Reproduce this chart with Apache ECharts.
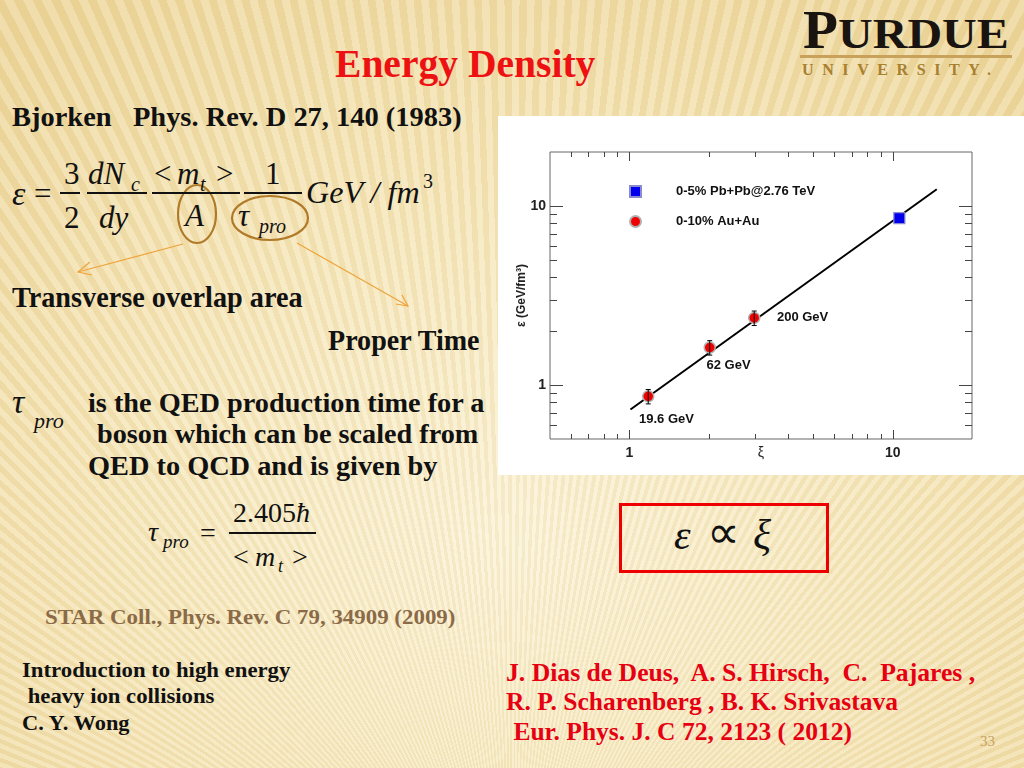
<!DOCTYPE html>
<html>
<head>
<meta charset="utf-8">
<script src="https://cdn.jsdelivr.net/npm/echarts@6/dist/echarts.min.js"></script>
<style>
  html,body{margin:0;padding:0;width:1024px;height:768px;overflow:hidden;}
  body{position:relative;
    background:
      repeating-conic-gradient(from 0deg at 50% 125%, rgba(255,255,255,0.16) 0deg 0.45deg, rgba(190,150,60,0.09) 0.45deg 0.9deg),
      radial-gradient(ellipse 75% 85% at 50% 70%, #fbf3d8 0%, #f6e7bb 50%, #eed79c 100%);
  }
  .t{position:absolute;white-space:pre;line-height:1;font-family:"Liberation Serif","Times New Roman",serif;color:#111;transform-origin:0 50%;}
  .bar{position:absolute;height:1.6px;background:#111;}
  #chart{position:absolute;left:498px;top:116px;width:526px;height:359px;background:#fff;}
  #box{position:absolute;left:619px;top:503px;width:204px;height:64px;border:3px solid #ee0000;}
</style>
</head>
<body>
<svg width="1024" height="768" style="position:absolute;left:0;top:0;pointer-events:none">
  <ellipse cx="197" cy="214" rx="19" ry="29" fill="none" stroke="#b07a28" stroke-width="2.2"/>
  <ellipse cx="270" cy="218" rx="38" ry="22" fill="none" stroke="#b07a28" stroke-width="2.2"/>
  <g stroke="#eea43a" stroke-width="1.2" fill="none">
    <line x1="183" y1="244" x2="78" y2="272"/>
    <polyline points="90,262 78,272 92,275"/>
    <line x1="297" y1="243" x2="408" y2="306"/>
    <polyline points="396,304 408,306 402,295"/>
  </g>
</svg>
<div id="box"></div>
<div id="chart"></div>
<script>
// ---------------- chart data ----------------
const auLabel = '0-10% Au+Au';
const pbLabel = '0-5% Pb+Pb@2.76 TeV';
const auEnergies = ['19.6 GeV', '62 GeV', '200 GeV'];
const auXi  = [1.18, 2.02, 2.98];
const auEps = [0.865, 1.62, 2.37];
const auErr = [0.08, 0.15, 0.22];
const pbXi  = [10.6];
const pbEps = [8.55];
const fitXi  = [1.01, 14.7];
const fitEps = [0.73, 12.4];
const xRange = [0.5, 20];
const yRange = [0.5, 20];
const xMajorTicks = [1, 10];
const xMinorTicks = [0.6, 0.7, 0.8, 0.9, 2, 3, 4, 5, 6, 7, 8, 9];
const yMajorTicks = [1, 10];
const yMinorTicks = [0.6, 0.7, 0.8, 0.9, 2, 3, 4, 5, 6, 7, 8, 9];

// ---------------- slide text ----------------
function T(txt, x, base, size, o) {
  o = o || {};
  const d = document.createElement('div');
  d.className = 't';
  d.textContent = txt;
  d.style.fontSize = size + 'px';
  d.style.left = x + 'px';
  d.style.top = (base - 0.8375 * size) + 'px';
  if (o.b) d.style.fontWeight = 'bold';
  if (o.i) d.style.fontStyle = 'italic';
  if (o.c) d.style.color = o.c;
  if (o.ls) d.style.letterSpacing = o.ls + 'px';
  document.body.appendChild(d);
  if (o.w) d.style.transform = 'scaleX(' + (o.w / d.offsetWidth) + ')';
  return d;
}
function B(x1, x2, y) {
  const d = document.createElement('div');
  d.className = 'bar';
  d.style.left = x1 + 'px'; d.style.width = (x2 - x1) + 'px'; d.style.top = (y - 0.8) + 'px';
  document.body.appendChild(d);
}
const RED = '#ee1111';
T('Energy Density', 335, 77, 40, {b:1, c:RED, w:260});
// Purdue logo
T('P', 803, 48, 54, {b:1, c:'#1a1410', w:35});
T('URDUE', 838, 48, 43, {b:1, c:'#1a1410', w:171});
(function(){const d=document.createElement('div');d.style.cssText='position:absolute;left:800px;top:55px;width:212px;height:3px;background:#c8a25a';document.body.appendChild(d);})();
T('UNIVERSITY.', 802, 75, 16, {b:1, c:'#a8802f', ls:8.6});

T('Bjorken   Phys. Rev. D 27, 140 (1983)', 12, 127, 27, {b:1, w:450});

// Bjorken formula
T('ε', 12, 205, 34, {i:1});
T('=', 34, 204, 31);
T('3', 64, 184, 31); B(60, 80, 193); T('2', 64, 228, 31);
T('dN', 88, 184, 31, {i:1}); T('c', 131, 191, 20, {i:1}); B(87, 147, 193); T('dy', 99, 228, 31, {i:1});
T('<', 154, 184, 31); T('m', 177, 184, 31, {i:1}); T('t', 200, 191, 20, {i:1}); T('>', 216, 184, 31);
B(152, 240, 193); T('A', 185, 226, 31, {i:1});
T('1', 265, 184, 31); B(244, 302, 193);
T('τ', 238, 226, 31, {i:1}); T('pro', 259, 233, 20, {i:1});
T('GeV / fm', 306, 203, 31, {i:1, w:114}); T('3', 423, 188, 20);

T('Transverse overlap area', 12, 307, 29, {b:1, w:291});
T('Proper Time', 328, 350, 29, {b:1, w:152});

T('τ', 12, 413, 34, {i:1}); T('pro', 34, 428, 22, {i:1});
T('is the QED production time for a', 88, 412, 28, {b:1, w:397});
T('boson which can be scaled from', 97, 443, 28, {b:1, w:381});
T('QED to QCD and is given by', 88, 475, 28, {b:1, w:349});

// tau_pro formula
T('τ', 148, 541, 28, {i:1}); T('pro', 163, 548, 19, {i:1});
T('=', 200, 542, 28);
T('2.405', 233, 522, 28); T('ħ', 296, 522, 28, {i:1});
B(229, 316, 533);
T('<', 233, 566, 28); T('m', 255, 566, 28, {i:1}); T('t', 278, 572, 18, {i:1}); T('>', 292, 566, 28);

// proportional box
T('ε', 674, 549, 42, {i:1}); T('∝', 707, 549, 46); T('ξ', 753, 549, 42, {i:1});

T('STAR Coll., Phys. Rev. C 79, 34909 (2009)', 45, 624, 22, {b:1, c:'#8b6b47', w:410});

T('Introduction to high energy', 22, 677, 22, {b:1, w:268});
T(' heavy ion collisions', 22, 703, 22, {b:1, w:192});
T('C. Y. Wong', 22, 730, 22, {b:1, w:108});

const AUTH = '#e60012';
T('J. Dias de Deus,  A. S. Hirsch,  C.  Pajares ,', 506, 681, 25, {b:1, c:AUTH, w:469});
T('R. P. Scharenberg , B. K. Srivastava', 506, 710, 25, {b:1, c:AUTH, w:392});
T(' Eur. Phys. J. C 72, 2123 ( 2012)', 507, 740, 25, {b:1, c:AUTH, w:345});
T('33', 980, 747, 15, {c:'#c8a060'});

// ---------------- chart ----------------
const chart = echarts.init(document.getElementById('chart'), null, {renderer:'canvas'});
const SANS = '"Liberation Sans", Arial, sans-serif';

const auData = auXi.map((x, i) => [x, auEps[i]]);
const pbData = pbXi.map((x, i) => [x, pbEps[i]]);
const fitData = fitXi.map((x, i) => [x, fitEps[i]]);
const errData = auXi.map((x, i) => [x, auEps[i], auEps[i] - auErr[i], auEps[i] + auErr[i]]);
const tickData = [].concat(
  xMinorTicks.map(v => [v, yRange[0], 0]),
  xMajorTicks.map(v => [v, yRange[0], 1]),
  yMinorTicks.map(v => [xRange[0], v, 2]),
  yMajorTicks.map(v => [xRange[0], v, 3])
);
// label placement (style only)
const auLabelPos = [[-3, 29], [3, 24], [29, 6]];

const labelFmt = v => {
  const l = Math.log10(v);
  return Math.abs(l - Math.round(l)) < 1e-6 && v > 0.9 && v < 11 ? String(Math.round(v)) : '';
};

chart.setOption({
  animation: false,
  backgroundColor: '#ffffff',
  grid: {left: 52, top: 36, width: 422, height: 287, show: true, borderColor: '#666', borderWidth: 1,
         backgroundColor: 'transparent', containLabel: false, outerBoundsMode: 'none'},
  legend: {
    orient: 'vertical', left: 126, top: 64, itemWidth: 11, itemHeight: 11, itemGap: 17,
    data: [pbLabel, auLabel],
    textStyle: {fontFamily: SANS, fontWeight: 'bold', fontSize: 13, color: '#111', padding: [0, 0, 0, 30]}
  },
  xAxis: {
    type: 'log', logBase: 10, min: xRange[0], max: xRange[1],
    name: 'ξ', nameLocation: 'middle', nameGap: 7, nameMoveOverlap: false,
    nameTextStyle: {fontFamily: SANS, fontSize: 14, color: '#222'},
    axisLine: {show: false}, axisTick: {show: false}, splitLine: {show: false}, minorTick: {show: false},
    axisLabel: {customValues: xMajorTicks, formatter: labelFmt, margin: 7, fontFamily: SANS, fontWeight: 'bold', fontSize: 14, color: '#222'}
  },
  yAxis: {
    type: 'log', logBase: 10, min: yRange[0], max: yRange[1],
    name: 'ε (GeV/fm³)', nameLocation: 'middle', nameGap: 22, nameRotate: 90, nameMoveOverlap: false,
    nameTextStyle: {fontFamily: SANS, fontWeight: 'bold', fontSize: 12, color: '#222'},
    axisLine: {show: false}, axisTick: {show: false}, splitLine: {show: false}, minorTick: {show: false},
    axisLabel: {customValues: yMajorTicks, formatter: labelFmt, margin: 4, fontFamily: SANS, fontWeight: 'bold', fontSize: 14, color: '#222'}
  },
  series: [
    {
      name: 'fit', type: 'line', data: fitData, symbol: 'none', z: 2,
      lineStyle: {color: '#000', width: 2}, silent: true
    },
    {
      name: auLabel, type: 'scatter', data: auData.map((d, i) => ({
        value: d,
        label: {show: true, formatter: auEnergies[i], position: auLabelPos[i], align: 'left', verticalAlign: 'middle',
                fontFamily: SANS, fontWeight: 'bold', fontSize: 13, color: '#111'}
      })),
      symbol: 'circle', symbolSize: 11, z: 3,
      itemStyle: {color: '#f00000', borderColor: '#b0b0b0', borderWidth: 1.5, opacity: 1}
    },
    {
      name: pbLabel, type: 'scatter', data: pbData, symbol: 'rect', symbolSize: 11, z: 3,
      itemStyle: {color: '#0000ee', borderColor: '#8a8ad0', borderWidth: 1.2, opacity: 1}
    },
    {
      name: 'err', type: 'custom', z: 4, silent: true, data: errData,
      renderItem: (params, api) => {
        const x = api.value(0);
        const p1 = api.coord([x, api.value(2)]);
        const p2 = api.coord([x, api.value(3)]);
        const s = {stroke: '#000', lineWidth: 1};
        return {type: 'group', children: [
          {type: 'line', shape: {x1: p1[0], y1: p1[1], x2: p2[0], y2: p2[1]}, style: s},
          {type: 'line', shape: {x1: p1[0] - 2.5, y1: p1[1], x2: p1[0] + 2.5, y2: p1[1]}, style: s},
          {type: 'line', shape: {x1: p2[0] - 2.5, y1: p2[1], x2: p2[0] + 2.5, y2: p2[1]}, style: s}
        ]};
      }
    },
    {
      name: 'ticks', type: 'custom', z: 5, silent: true, data: tickData,
      renderItem: (params, api) => {
        const cs = params.coordSys;
        const kind = api.value(2);
        const p = api.coord([api.value(0), api.value(1)]);
        const s = {stroke: '#444', lineWidth: 1};
        if (kind < 2) {
          const len = kind === 1 ? 9 : 5;
          const bx = Math.round(p[0]) + 0.5;
          return {type: 'group', children: [
            {type: 'line', shape: {x1: bx, y1: cs.y + cs.height, x2: bx, y2: cs.y + cs.height - len}, style: s},
            {type: 'line', shape: {x1: bx, y1: cs.y, x2: bx, y2: cs.y + len}, style: s}
          ]};
        }
        const len = kind === 3 ? 13 : 7;
        const by = Math.round(p[1]) + 0.5;
        return {type: 'group', children: [
          {type: 'line', shape: {x1: cs.x, y1: by, x2: cs.x + len, y2: by}, style: s},
          {type: 'line', shape: {x1: cs.x + cs.width, y1: by, x2: cs.x + cs.width - len, y2: by}, style: s}
        ]};
      }
    }
  ]
});
</script>
</body>
</html>
